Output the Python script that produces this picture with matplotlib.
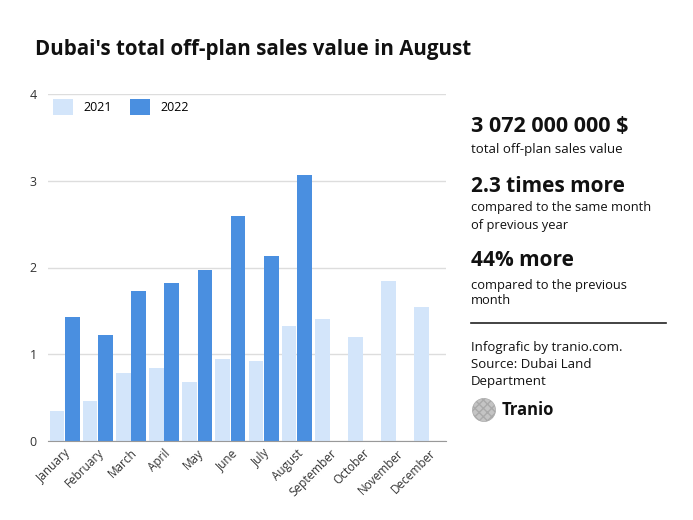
import matplotlib.pyplot as plt
import matplotlib.patches as mpatches
import numpy as np

months = ['January', 'February', 'March', 'April', 'May', 'June', 'July',
          'August', 'September', 'October', 'November', 'December']
sales_2021 = [0.35, 0.46, 0.78, 0.84, 0.68, 0.95, 0.92, 1.32, 1.41, 1.20, 1.85, 1.55]
sales_2022 = [1.43, 1.22, 1.73, 1.82, 1.97, 2.59, 2.13, 3.07, 0, 0, 0, 0]
yticks = [0, 1, 2, 3, 4]

color_2021 = '#d3e5fa'
color_2022 = '#4a8fe0'
font = 'Open Sans'

fig = plt.figure(figsize=(6.93, 5.2), dpi=100)
plt.rcParams['font.family'] = [font, 'DejaVu Sans']

# main chart
ax = fig.add_axes([48 / 693, 79 / 520, 398 / 693, 347 / 520])
x = np.arange(len(months))
w = 0.44
ax.bar(x - 0.23, sales_2021, width=w, color=color_2021, label='2021', zorder=2)
ax.bar(x + 0.23, sales_2022, width=w, color=color_2022, label='2022', zorder=2)

ax.set_xlim(-0.5, 11.5)
ax.set_ylim(0, 4)
ax.set_yticks(yticks)
ax.set_yticklabels([str(t) for t in yticks], fontsize=9, color='#333333')
ax.yaxis.grid(True, color='#dddddd', linewidth=1, zorder=0)
ax.tick_params(axis='y', length=0, pad=8)
ax.tick_params(axis='x', length=0, pad=4)
ax.set_xticks(x)
ax.set_xticklabels(months, rotation=45, ha='right', rotation_mode='anchor',
                   fontsize=8.5, color='#333333')
for s in ['top', 'right', 'left']:
    ax.spines[s].set_visible(False)
ax.spines['bottom'].set_color('#999999')
ax.spines['bottom'].set_zorder(3)

leg = ax.legend(loc='upper left', bbox_to_anchor=(0.0, 1.0), ncol=2, frameon=False,
                fontsize=9, handlelength=1.6, handleheight=1.6, columnspacing=1.5,
                handletextpad=0.8, borderaxespad=0.0)

# title
fig.text(35 / 693, 1 - 50 / 520, "Dubai's total off-plan sales value in August",
         fontsize=14.8, fontweight='bold', va='center', ha='left', color='#111111')

# side panel
tx = 471 / 693
def put(y, s, size, bold=False):
    fig.text(tx, 1 - y / 520, s, fontsize=size, fontweight='bold' if bold else 'normal',
             va='center', ha='left', color='#111111')

put(126, '3 072 000 000 $', 15.5, True)
put(149, 'total off-plan sales value', 9.5)
put(186, '2.3 times more', 15, True)
put(208, 'compared to the same month', 9.3)
put(225, 'of previous year', 9.3)
put(261, '44% more', 15, True)
put(285, 'compared to the previous', 9.3)
put(301, 'month', 9.3)
fig.add_artist(plt.Line2D([471 / 693, 666 / 693], [1 - 323 / 520, 1 - 323 / 520],
                          color='#222222', linewidth=1.2))
put(347, 'Infografic by tranio.com.', 9.5)
put(364, 'Source: Dubai Land', 9.5)
put(381, 'Department', 9.5)

# logo
lax = fig.add_axes([472 / 693, 1 - 422 / 520, 24 / 693, 24 / 520])
lax.set_aspect('equal')
lax.add_patch(mpatches.Circle((0.5, 0.5), 0.48, facecolor='#c4c4c4',
                              edgecolor='#aaaaaa', hatch='xxxx', linewidth=0.5))
lax.set_xlim(0, 1)
lax.set_ylim(0, 1)
lax.axis('off')
fig.text(502 / 693, 1 - 410 / 520, 'Tranio', fontsize=12, fontweight='bold',
         va='center', ha='left', color='#111111')

plt.savefig('out.png', dpi=100)
plt.close()
